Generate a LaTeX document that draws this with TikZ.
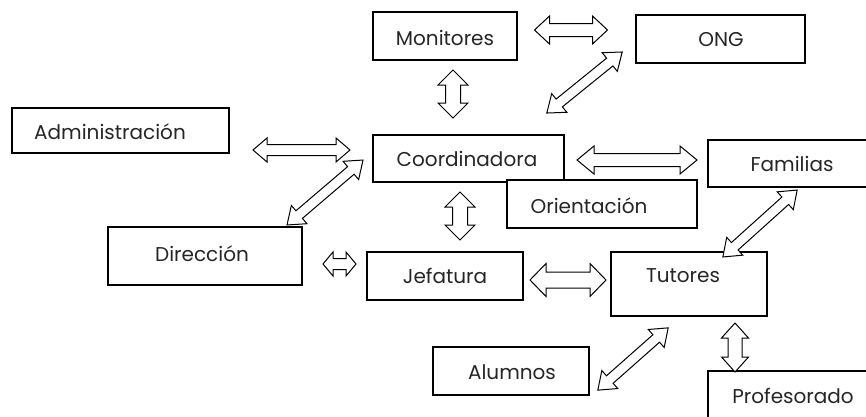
\documentclass[tikz,border=0pt]{standalone}
\usepackage{fontspec}
\setmainfont{Poppins}
\tikzset{
  box/.style={draw=black, line width=1.3pt, fill=white, inner sep=0pt},
  lbl/.style={inner sep=0pt, font=\fontsize{20}{22}\selectfont, text=black!85},
  barrow/.style={draw=black, line width=1pt, fill=white, line join=miter},
}
% \blockarrow{name}{center}{angle}{length}{head width}{shaft width}{head length}
\newcommand{\blockarrow}[7]{%
  \begin{scope}[shift={#2}, rotate=#3]
    \pgfmathsetmacro{\bL}{#4/2}\pgfmathsetmacro{\bH}{#5/2}%
    \pgfmathsetmacro{\bS}{#6/2}\pgfmathsetmacro{\bK}{#4/2-#7}%
    \draw[barrow] (-\bL pt,0pt) coordinate (#1) -- (-\bK pt,\bH pt) -- (-\bK pt,\bS pt) -- (\bK pt,\bS pt)
      -- (\bK pt,\bH pt) -- (\bL pt,0pt) -- (\bK pt,-\bH pt) -- (\bK pt,-\bS pt)
      -- (-\bK pt,-\bS pt) -- (-\bK pt,-\bH pt) -- cycle;
  \end{scope}}
\begin{document}
\begin{tikzpicture}[x=1pt,y=-1pt]
\useasboundingbox (0,0) rectangle (866,416);
\clip (0,0) rectangle (866,416);
\fill[white] (0,0) rectangle (866,416);
% boxes
\node[box, minimum width=144pt, minimum height=48pt] (mon) at (445,36) {};
\node[lbl] (tmon) at (445,38) {Monitores};
\node[box, minimum width=169pt, minimum height=48pt] (ong) at (720.5,39) {};
\node[lbl] (tong) at (721,40) {ONG};
\node[box, minimum width=217pt, minimum height=45pt] (adm) at (120.5,130.5) {};
\node[lbl] (tadm) at (110,132) {Administración};
\node[box, minimum width=191pt, minimum height=47pt] (coo) at (468.5,158.5) {};
\node[lbl] (tcoo) at (467,159) {Coordinadora};
\node[box, minimum width=190pt, minimum height=48pt] (ori) at (602,204) {};
\node[lbl] (tori) at (589,206) {Orientación};
\node[box, minimum width=192pt, minimum height=47pt] (fam) at (804,163.5) {};
\node[lbl] (tfam) at (792,164) {Familias};
\node[box, minimum width=194pt, minimum height=58pt] (dir) at (205,256) {};
\node[lbl] (tdir) at (202,254) {Dirección};
\node[box, minimum width=156pt, minimum height=48pt] (jef) at (445,276) {};
\node[lbl] (tjef) at (445,276) {Jefatura};
\node[box, minimum width=156pt, minimum height=64pt] (tut) at (689,284) {};
\node[lbl] (ttut) at (683,276) {Tutores};
\node[box, minimum width=156pt, minimum height=48pt] (alu) at (511,371) {};
\node[lbl] (talu) at (512,372) {Alumnos};
\node[box, minimum width=192pt, minimum height=70pt] (pro) at (804,406) {};
\node[lbl] (tpro) at (793,396) {Profesorado};
% block arrows
\blockarrow{a1}{(571,30)}{0}{73}{28}{13}{15}
\blockarrow{a2}{(453,94)}{90}{48}{30}{15}{15}
\blockarrow{a3}{(584.5,82.5)}{39}{97}{24}{10}{16}
\blockarrow{a4}{(301.5,150)}{0}{97}{24}{11}{14}
\blockarrow{a5}{(325,192.5)}{40.5}{100}{24}{10}{16}
\blockarrow{a6}{(339.5,264)}{0}{33}{24}{11}{10}
\blockarrow{a7}{(460,216)}{90}{48}{30}{15}{15}
\blockarrow{a8}{(637,160)}{0}{120}{28}{13}{17}
\blockarrow{a9}{(760,223.5)}{42}{100}{24}{10}{16}
\blockarrow{a10}{(568,280)}{0}{76}{33}{16}{16}
\blockarrow{a11}{(633,359)}{41.5}{94}{24}{10}{16}
\blockarrow{a12}{(735,347.5)}{90}{49}{27}{14}{15}
\end{tikzpicture}
\end{document}
